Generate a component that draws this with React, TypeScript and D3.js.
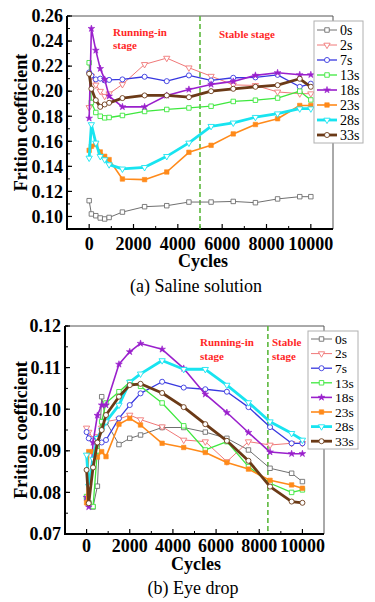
import React from "react";
import * as d3 from "d3";

// ---------- DATA ----------
const LABELS = ["0s", "2s", "7s", "13s", "18s", "23s", "28s", "33s"];

// (a) Saline solution
const CYCLES_A = [0, 100, 300, 500, 700, 900, 1500, 2500, 3500, 4500, 5500, 6500, 7500, 8500, 9500, 10000];
const A_0S = [0.1126, 0.102, 0.1006, 0.0988, 0.098, 0.0992, 0.1035, 0.1078, 0.1086, 0.1115, 0.1115, 0.112, 0.111, 0.114, 0.1158, 0.1158];
const A_2S = [0.187, 0.212, 0.205, 0.2, 0.196, 0.198, 0.2054, 0.2214, 0.2264, 0.2187, 0.212, 0.205, 0.2046, 0.1994, 0.198, 0.198];
const A_7S = [0.215, 0.2125, 0.2094, 0.21, 0.2086, 0.209, 0.2094, 0.2115, 0.208, 0.2126, 0.2086, 0.2107, 0.211, 0.213, 0.2035, 0.206];
const A_13S = [0.2227, 0.191, 0.183, 0.18, 0.1787, 0.179, 0.1806, 0.1838, 0.1854, 0.1866, 0.188, 0.1918, 0.1928, 0.1945, 0.2, 0.193];
const A_18S = [0.1784, 0.25, 0.2326, 0.218, 0.2094, 0.196, 0.1875, 0.1875, 0.1966, 0.2014, 0.2054, 0.2078, 0.2126, 0.2147, 0.2131, 0.2131];
const A_23S = [0.1528, 0.156, 0.1574, 0.1515, 0.148, 0.1454, 0.1299, 0.1294, 0.1355, 0.1512, 0.1568, 0.1659, 0.1734, 0.178, 0.1886, 0.1886];
const A_28S = [0.1467, 0.1734, 0.1587, 0.148, 0.1454, 0.1414, 0.138, 0.1392, 0.148, 0.1587, 0.172, 0.1747, 0.1792, 0.182, 0.186, 0.186];
const A_33S = [0.2139, 0.2019, 0.1928, 0.1875, 0.1894, 0.1907, 0.1945, 0.1966, 0.1966, 0.1952, 0.2, 0.2019, 0.2035, 0.2048, 0.2099, 0.2035];
const SALINE = [A_0S, A_2S, A_7S, A_13S, A_18S, A_23S, A_28S, A_33S];

// (b) Eye drop
const CYCLES_B = [0, 100, 300, 500, 700, 900, 1500, 2000, 2500, 3500, 4500, 5500, 6500, 7500, 8500, 9500, 10000];
const B_0S = [0.0785, 0.0775, 0.0765, 0.0815, 0.103, 0.097, 0.0915, 0.093, 0.0938, 0.0956, 0.0956, 0.0945, 0.093, 0.0902, 0.0858, 0.0846, 0.0826];
const B_2S = [0.0955, 0.0945, 0.093, 0.0935, 0.0955, 0.097, 0.0976, 0.0986, 0.0975, 0.0958, 0.0926, 0.0922, 0.0874, 0.0922, 0.0914, 0.0918, 0.0918];
const B_7S = [0.0945, 0.093, 0.0925, 0.093, 0.092, 0.0926, 0.0978, 0.101, 0.1038, 0.1066, 0.1052, 0.1048, 0.1042, 0.1005, 0.0957, 0.0918, 0.0918];
const B_13S = [0.079, 0.0775, 0.0766, 0.09, 0.097, 0.1015, 0.1042, 0.1065, 0.1055, 0.1015, 0.096, 0.0902, 0.0922, 0.0862, 0.0822, 0.08, 0.0806];
const B_18S = [0.0788, 0.0765, 0.092, 0.0985, 0.101, 0.101, 0.1108, 0.1138, 0.1158, 0.1144, 0.1098, 0.1036, 0.0992, 0.0944, 0.0897, 0.0893, 0.0893];
const B_23S = [0.0775, 0.0898, 0.0898, 0.0885, 0.0898, 0.0886, 0.0964, 0.0978, 0.0962, 0.0918, 0.0908, 0.0896, 0.0872, 0.0856, 0.0829, 0.0818, 0.081];
const B_28S = [0.089, 0.0815, 0.088, 0.093, 0.095, 0.097, 0.101, 0.1065, 0.1085, 0.1117, 0.1096, 0.1096, 0.1058, 0.1016, 0.097, 0.0942, 0.0926];
const B_33S = [0.0854, 0.0774, 0.086, 0.092, 0.095, 0.0986, 0.103, 0.1058, 0.1061, 0.1039, 0.1005, 0.0964, 0.0924, 0.0876, 0.0814, 0.0778, 0.0775];
const EYEDROP = [B_0S, B_2S, B_7S, B_13S, B_18S, B_23S, B_28S, B_33S];

const Y_TICKS_A = [0.1, 0.12, 0.14, 0.16, 0.18, 0.2, 0.22, 0.24, 0.26];
const Y_TICKS_B = [0.07, 0.08, 0.09, 0.1, 0.11, 0.12];
const X_TICKS = [0, 2000, 4000, 6000, 8000, 10000];

// ---------- STYLES ----------
const STYLES = [
  { color: "#707070", w: 1, marker: "square", fill: false },
  { color: "#f07878", w: 1, marker: "tri", fill: false },
  { color: "#3838e0", w: 1.3, marker: "circle", fill: false },
  { color: "#3ee83e", w: 1.3, marker: "square", fill: false },
  { color: "#9a20cc", w: 1.6, marker: "star", fill: true },
  { color: "#ff8a1a", w: 1.6, marker: "square", fill: true },
  { color: "#18e4f0", w: 2.8, marker: "tri", fill: false },
  { color: "#6b3a17", w: 2.8, marker: "circle", fill: false },
];

const SERIF = "'Liberation Serif', 'Times New Roman', serif";

function markerPath(type: string) {
  const t =
    type === "square" ? d3.symbolSquare :
    type === "circle" ? d3.symbolCircle :
    type === "star" ? d3.symbolStar : d3.symbolTriangle;
  const size = type === "star" ? 14 : type === "tri" ? 17 : type === "circle" ? 20 : 20;
  return d3.symbol().type(t).size(size)() as string;
}

function Marker({ x, y, s }: any) {
  const rot = s.marker === "tri" ? 180 : 0;
  return (
    <path
      d={markerPath(s.marker)}
      transform={`translate(${x},${y}) rotate(${rot})`}
      fill={s.fill ? s.color : "#fff"}
      stroke={s.color}
      strokeWidth={s.fill ? 0.6 : 0.9}
    />
  );
}

function Panel({ cfg }: any) {
  const { frame, yDomain, yTicks, yMinorStep, cycles, data, dashX, ann, legend, captions } = cfg;
  const x = d3.scaleLinear().domain([-1000, 11000]).range([frame.l, frame.r]);
  const y = d3.scaleLinear().domain(yDomain).range([frame.b, frame.t]);
  const line = d3.line<number>().x((_, i) => x(cycles[i])).y((v) => y(v)).curve(d3.curveLinear);
  const minorY = d3.range(yDomain[0], yDomain[1] + 1e-9, yMinorStep).filter((v: number) => v > yDomain[0] + 1e-9);
  const minorX = [1000, 3000, 5000, 7000, 9000];
  const midY = (frame.t + frame.b) / 2;
  return (
    <g>
      <line x1={frame.l} x2={frame.r} y1={frame.t} y2={frame.t} stroke="#555" strokeWidth={1} />
      <line x1={frame.r} x2={frame.r} y1={frame.t} y2={frame.b} stroke="#555" strokeWidth={1} />
      {X_TICKS.map((t) => (
        <line key={"xt" + t} x1={x(t)} x2={x(t)} y1={frame.b} y2={frame.b - 5} stroke="#000" strokeWidth={1.2} />
      ))}
      {minorX.map((t) => (
        <line key={"xm" + t} x1={x(t)} x2={x(t)} y1={frame.b} y2={frame.b - 3} stroke="#000" strokeWidth={1} />
      ))}
      {minorY.map((t: number) => (
        <line key={"ym" + t} x1={frame.l} x2={frame.l + 3} y1={y(t)} y2={y(t)} stroke="#000" strokeWidth={1} />
      ))}
      {yTicks.map((t: number) => (
        <line key={"yt" + t} x1={frame.l} x2={frame.l + 5} y1={y(t)} y2={y(t)} stroke="#000" strokeWidth={1.2} />
      ))}
      <line x1={frame.l} x2={frame.l} y1={frame.t} y2={frame.b + 1} stroke="#000" strokeWidth={2} />
      <line x1={frame.l - 1} x2={frame.r} y1={frame.b} y2={frame.b} stroke="#000" strokeWidth={2} />
      {yTicks.map((t: number) => (
        <text key={"yl" + t} x={frame.l - 4} y={y(t)} dy="0.35em" textAnchor="end" fontFamily={SERIF} fontWeight="bold" fontSize={18}>
          {d3.format(".2f")(t)}
        </text>
      ))}
      {X_TICKS.map((t) => (
        <text key={"xl" + t} x={x(t)} y={captions.tickY} textAnchor="middle" fontFamily={SERIF} fontWeight="bold" fontSize={18}>
          {t}
        </text>
      ))}
      <text x={captions.cyclesX} y={captions.cyclesY} textAnchor="middle" fontFamily={SERIF} fontWeight="bold" fontSize={18}>Cycles</text>
      <text x={captions.capX} y={captions.capY} textAnchor="middle" fontFamily={SERIF} fontSize={18}>{captions.cap}</text>
      <text transform={`translate(${captions.titleX},${midY}) rotate(-90)`} textAnchor="middle" fontFamily={SERIF} fontWeight="bold" fontSize={18}>
        Frition coefficient
      </text>
      <line x1={x(dashX)} x2={x(dashX)} y1={frame.t} y2={frame.b} stroke="#5cb83c" strokeWidth={1.6} strokeDasharray="5,3" />
      {ann.map((a: any, i: number) => (
        <text key={"an" + i} x={a.x} y={a.y} fontFamily={SERIF} fontWeight="bold" fontSize={11} fill="#ff2626">{a.t}</text>
      ))}
      {data.map((vals: number[], si: number) => {
        const s = STYLES[si];
        return (
          <g key={"s" + si}>
            <path d={line(vals) as string} fill="none" stroke={s.color} strokeWidth={s.w} strokeLinejoin="round" />
            {vals.map((v, i) => (
              <Marker key={i} x={x(cycles[i])} y={y(v)} s={s} />
            ))}
          </g>
        );
      })}
      <rect x={legend.x} y={legend.y} width={legend.w} height={legend.h} fill="#fff" stroke="#b0b0b0" strokeWidth={1} />
      {LABELS.map((lab, i) => {
        const s = STYLES[i];
        const ly = legend.row0 + i * legend.step;
        const lx = legend.x + 3;
        return (
          <g key={"lg" + i}>
            <line x1={lx} x2={lx + legend.lineW} y1={ly} y2={ly} stroke={s.color} strokeWidth={s.w} />
            <Marker x={lx + legend.lineW / 2} y={ly} s={s} />
            <text x={lx + legend.lineW + 3} y={ly} dy="0.35em" fontFamily={SERIF} fontSize={legend.fs}>{lab}</text>
          </g>
        );
      })}
    </g>
  );
}

const CFG_A = {
  frame: { l: 67, r: 333, t: 16, b: 229 },
  yDomain: [0.09, 0.26],
  yTicks: Y_TICKS_A,
  yMinorStep: 0.01,
  cycles: CYCLES_A,
  data: SALINE,
  dashX: 5000,
  ann: [
    { x: 113, y: 36, t: "Running-in" },
    { x: 113, y: 49, t: "stage" },
    { x: 219, y: 37.5, t: "Stable stage" },
  ],
  legend: { x: 314, y: 21, w: 49, h: 122, row0: 30, step: 15, lineW: 20, fs: 14 },
  captions: { tickY: 250, cyclesX: 203, cyclesY: 267, capX: 196, capY: 292, cap: "(a) Saline solution", titleX: 27 },
};

const CFG_B = {
  frame: { l: 65, r: 324, t: 326, b: 534 },
  yDomain: [0.07, 0.12],
  yTicks: Y_TICKS_B,
  yMinorStep: 0.005,
  cycles: CYCLES_B,
  data: EYEDROP,
  dashX: 8400,
  ann: [
    { x: 200, y: 346, t: "Running-in" },
    { x: 200, y: 360, t: "stage" },
    { x: 272, y: 346, t: "Stable" },
    { x: 272, y: 360, t: "stage" },
  ],
  legend: { x: 308, y: 331, w: 50, h: 118, row0: 339, step: 14.6, lineW: 21, fs: 13.5 },
  captions: { tickY: 552, cyclesX: 196, cyclesY: 570, capX: 193, capY: 594, cap: "(b) Eye drop", titleX: 27 },
};

export default function App() {
  return (
    <svg width={375} height={602} style={{ position: "absolute", left: 0, top: 0, background: "#fff" }}>
      <rect width={375} height={602} fill="#fff" />
      <Panel cfg={CFG_A} />
      <Panel cfg={CFG_B} />
    </svg>
  );
}
